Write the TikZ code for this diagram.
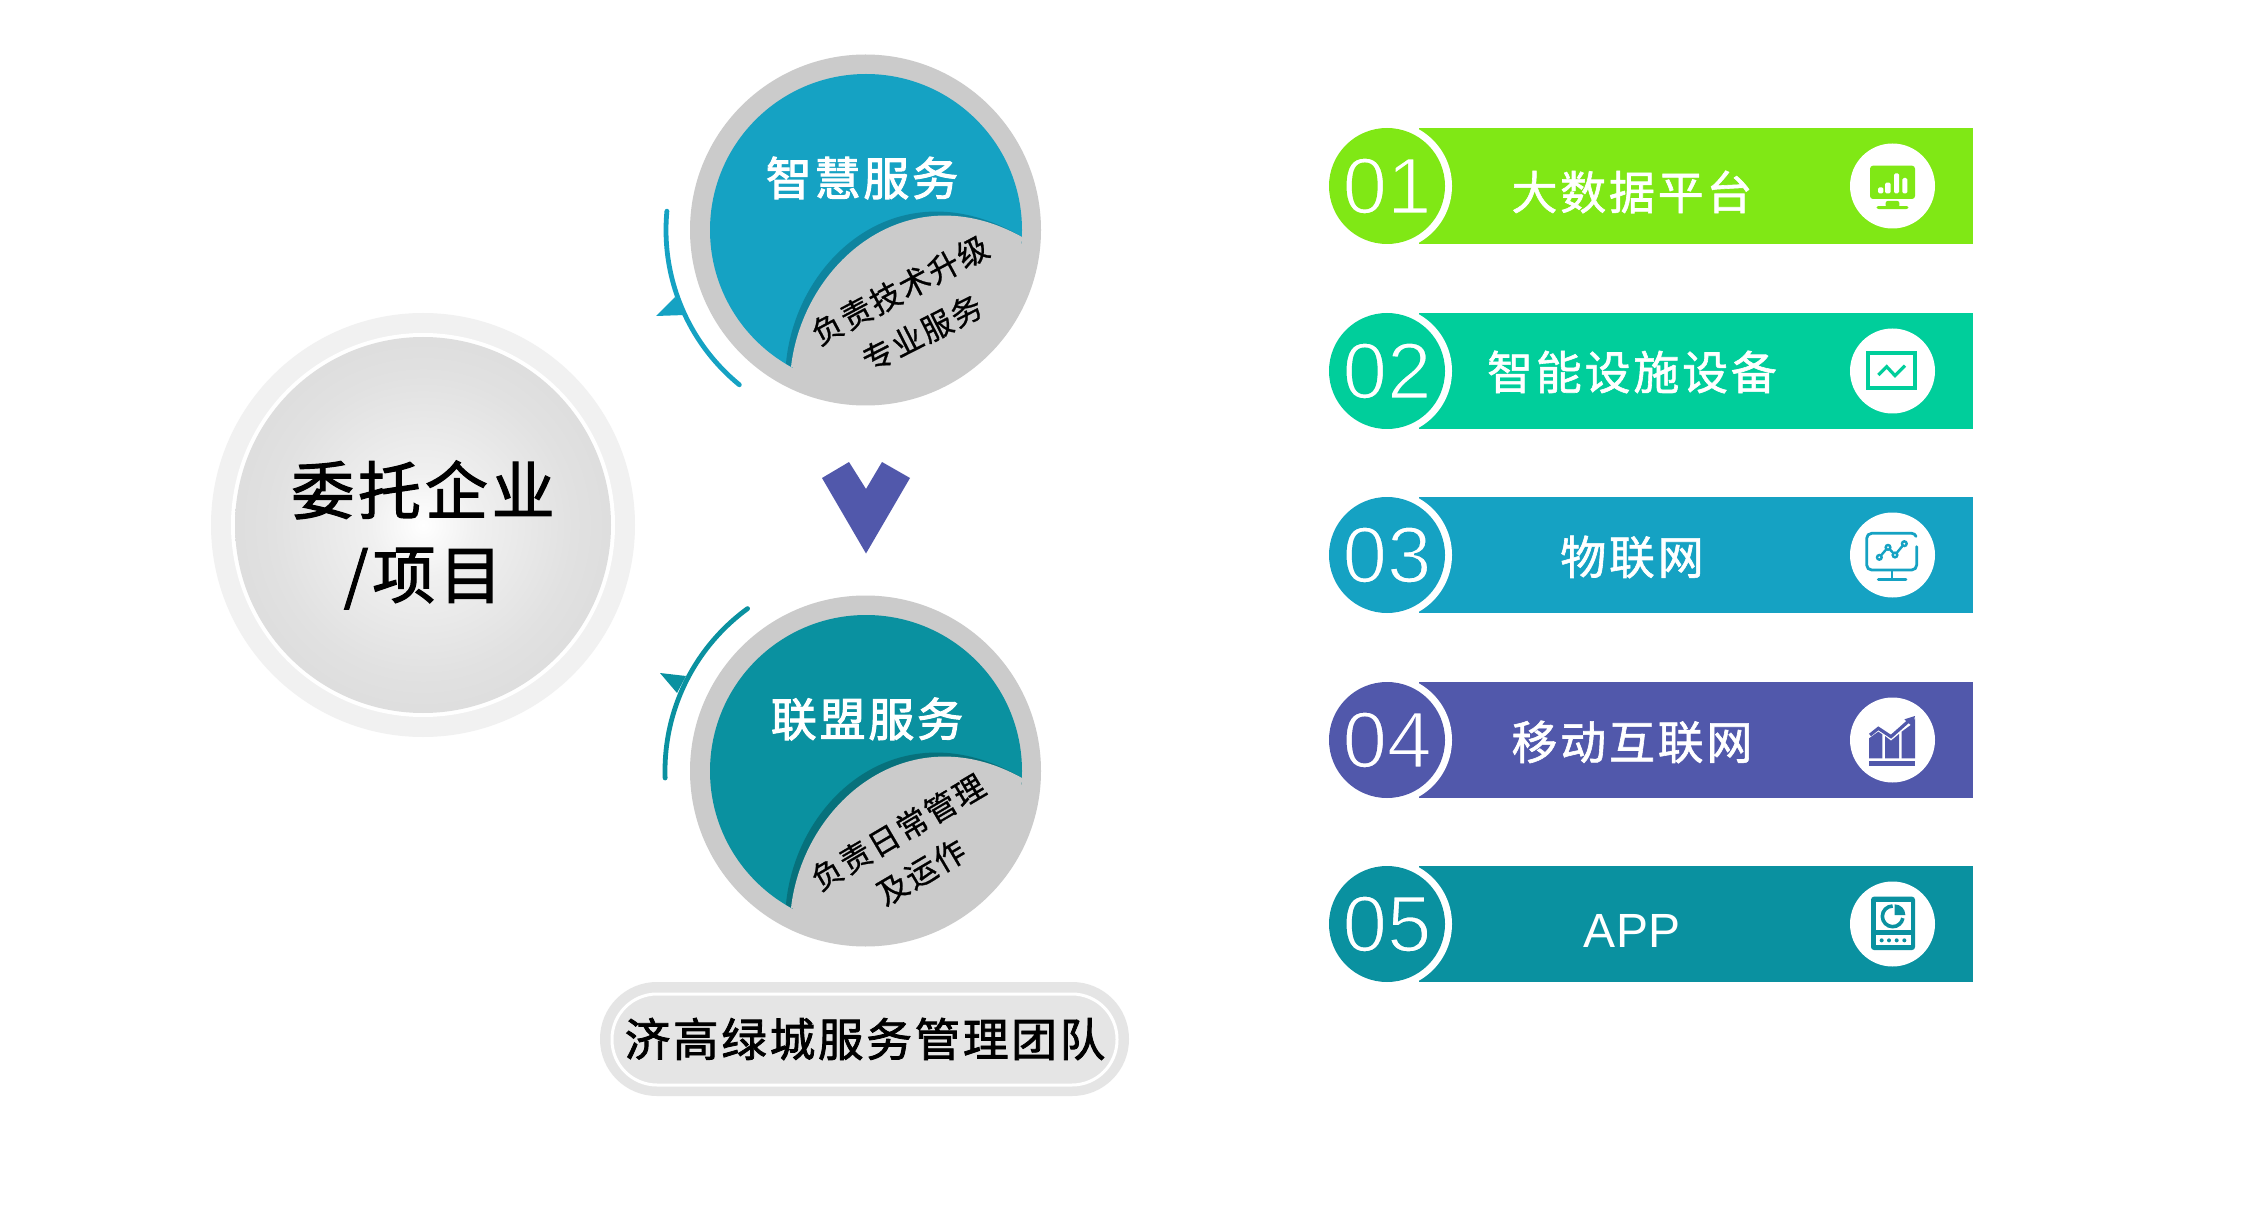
\documentclass[tikz,border=0pt]{standalone}
\usepackage{fontspec}
\newfontfamily\cjkw[LetterSpace=6,FakeBold=1.3]{Noto Sans CJK SC}
\newfontfamily\cjkh[LetterSpace=6,FakeBold=2.2]{Noto Sans CJK SC}
\newfontfamily\cjks[LetterSpace=6,FakeBold=0.8]{Noto Sans CJK SC}
\newfontfamily\cjkb[LetterSpace=6,FakeBold=1.8]{Noto Sans CJK SC}
\newfontfamily\numf{Liberation Sans}
\definecolor{cgreen}{HTML}{80E815}
\definecolor{cmint}{HTML}{00CE9B}
\definecolor{cblue}{HTML}{15A2C3}
\definecolor{cpurple}{HTML}{5158AB}
\definecolor{cteal}{HTML}{0A91A0}
\definecolor{cblued}{HTML}{0E849F}
\definecolor{cteald}{HTML}{07717C}
\definecolor{cring}{HTML}{CBCBCB}
\definecolor{cpill}{HTML}{E5E5E5}
\definecolor{chalo}{HTML}{F1F1F1}
\definecolor{gA}{HTML}{FFFFFF}
\definecolor{gB}{HTML}{F0F0F0}
\definecolor{gC}{HTML}{E1E1E1}
\definecolor{gD}{HTML}{D7D7D7}
\definecolor{gE}{HTML}{CFCFCF}
\pgfdeclareradialshading{softdisc}{\pgfpoint{0bp}{0bp}}{color(0bp)=(gA); color(7bp)=(gB); color(20bp)=(gC); color(35bp)=(gD); color(50bp)=(gE)}
% digits thinned by stroking their outline in the disc's colour
\newcommand{\thindigits}[2]{\special{pdf:code q 2 Tr 0.9 w #1 RG}#2\special{pdf:code Q}}
\tikzset{
  disc/.style={circle,draw=none,inner sep=0pt,minimum size=#1*0.5pt},
  lab/.style={inner sep=0pt,text=white,font=\cjkw\fontsize{23}{26}\selectfont},
  headlab/.style={inner sep=0pt,text=white,font=\cjkh\fontsize{23}{26}\selectfont},
  sublab/.style={inner sep=0pt,text=black,font=\cjks\fontsize{15.5}{18}\selectfont},
  darklab/.style={inner sep=0pt,text=black,font=\cjkb\fontsize{22.8}{26}\selectfont},
  numlab/.style={inner sep=0pt,anchor=base,text=white,font=\numf\fontsize{40}{42}\selectfont},
  swing/.style={line width=2.4pt,line cap=round},
}
% bar: #1 name, #2 colour, #3 centre y, #4 number, #5 label, #6 label y, #7 rgb of colour
\newcommand{\rowbar}[7]{%
  \node[inner sep=0pt,minimum width=277pt,minimum height=58pt,fill=#2] (bar#1) at (1696,#3) {};
  \node[disc=130,fill=white] (ring#1) at (1387,#3) {};
  \node[disc=116,fill=#2] (num#1) at (1387,#3) {};
  \node[numlab] (numt#1) at (1387,#3+27.5) {\thindigits{#7}{#4}};
  \node[lab] (txt#1) at (1632,#6) {#5};
  \node[disc=85,fill=white] (ico#1) at (1892.5,#3) {};
}
\newcommand{\petal}[2]{% shadow colour, wedge colour
  \fill[#1] (786,363) .. controls (796,258) and (900,165) .. (1022,237) arc[start angle=2.6,end angle=121,radius=156] -- cycle;
  \fill[#2] (791,367) .. controls (803,263) and (907,173) .. (1022,237) arc[start angle=2.6,end angle=118.7,radius=156] -- cycle;
}
\begin{document}
\begin{tikzpicture}[x=0.5pt,y=-0.5pt]
\useasboundingbox (0,0) rectangle (2256,1209);
\fill[white] (0,0) rectangle (2256,1209);

% client circle
\node[disc=424,fill=chalo] (haloC) at (423,525) {};
\node[disc=384,fill=white] (ringC) at (423,525) {};
\node[disc=376,shading=softdisc] (client) at (423,525) {};
\node[inner sep=0pt,text=black,align=center,font=\cjkb\fontsize{31.5}{42}\selectfont] (clientT) at (423,535) {委托企业\\/\hspace{2pt}项目};

% upper service
\node[disc=351,fill=cring] (upO) at (865.5,230) {};
\node[disc=312,fill=cblue] (upI) at (866,230) {};
\petal{cblued}{cring}
\draw[cring,line width=1.6pt] ([shift={(5:156.5)}]upI.center) arc[start angle=5,end angle=118,radius=156.5];
\draw[swing,cblue] ([shift={(185.4:200)}]upI.center) arc[start angle=185.4,end angle=129.3,radius=200];
\fill[cblue] (656,316) -- (675,297) -- (685,315) -- cycle;
\node[headlab] (upT) at (862,178) {智慧服务};
\node[sublab,rotate=28] (upS1) at (900,290) {负责技术升级};
\node[sublab,rotate=27] (upS2) at (922,333) {专业服务};

% chevron
\fill[cpurple] (849,462) -- (866,489) -- (882,462) -- (910,478) -- (866,553.5) -- (822,478) -- cycle;

% lower service
\node[disc=351,fill=cring] (loO) at (865.5,771) {};
\node[disc=312,fill=cteal] (loI) at (866,771) {};
\begin{scope}[yshift=-270.5pt]\petal{cteald}{cring}\end{scope}
\draw[cring,line width=1.6pt] ([shift={(5:156.5)}]loI.center) arc[start angle=5,end angle=118,radius=156.5];
\draw[swing,cteal] ([shift={(233.9:201)}]loI.center) arc[start angle=233.9,end angle=178,radius=201];
\fill[cteal] (660,673) -- (686,676) -- (677,693) -- cycle;
\node[headlab] (loT) at (867,719) {联盟服务};
\node[sublab,rotate=30.5] (loS1) at (898,832) {负责日常管理};
\node[sublab,rotate=30.5] (loS2) at (921,872) {及运作};

% team pill
\node[inner sep=0pt,rounded corners=28.4pt,minimum width=264.5pt,minimum height=57pt,fill=cpill] (pillO) at (864.5,1039) {};
\node[inner sep=0pt,rounded corners=22.5pt,minimum width=252.5pt,minimum height=45.5pt,draw=white,line width=1.5pt,fill=cpill] (pillI) at (864.5,1039.5) {};
\node[darklab] (pillT) at (865,1039) {济高绿城服务管理团队};

% rows
\rowbar{a}{cgreen}{186}{01}{大数据平台}{192}{0.502 0.91 0.082}
\rowbar{b}{cmint}{371}{02}{智能设施设备}{372}{0 0.808 0.608}
\rowbar{c}{cblue}{555}{03}{物联网}{557}{0.082 0.635 0.765}
\rowbar{d}{cpurple}{740}{04}{移动互联网}{742}{0.318 0.345 0.671}
\rowbar{e}{cteal}{924}{05}{\numf\fontsize{24}{26}\selectfont APP}{931}{0.039 0.569 0.627}

% icon a: monitor with bars
\begin{scope}[shift={(1820,130)},x=0.16667pt,y=-0.16667pt]
  \fill[cgreen,rounded corners=1.5pt] (150,107) rectangle (285,207);
  \fill[cgreen,rounded corners=1pt] (197,213) rectangle (238,232);
  \fill[cgreen,rounded corners=1pt] (170,228) rectangle (265,237);
  \fill[white,rounded corners=.7pt] (174,172) rectangle (190,190);
  \fill[white,rounded corners=.7pt] (195,158) rectangle (212,190);
  \fill[white,rounded corners=.7pt] (222,130) rectangle (237,190);
  \fill[white,rounded corners=.7pt] (247,144) rectangle (262,190);
% icon b: framed zigzag
  \draw[cmint,line width=2pt] (144,669) rectangle (285,773);
  \draw[cmint,line width=1.6pt] (175,735) -- (200,710) -- (225,737) -- (255,707);
\end{scope}
% icon c: outline monitor with chart
\begin{scope}[shift={(1820,500)},x=0.16667pt,y=-0.16667pt]
  \draw[cblue,line width=1.4pt,line cap=round] (290,140) -- (290,195) arc[start angle=0,end angle=90,radius=15] -- (155,210) arc[start angle=90,end angle=180,radius=15] -- (140,115) arc[start angle=180,end angle=270,radius=15] -- (275,100) arc[start angle=270,end angle=340,radius=14];
  \draw[cblue,line width=1.4pt] (216,210) -- (216,238);
  \draw[cblue,line width=1.4pt,line cap=round] (175,238) -- (258,238);
  \draw[cblue,line width=1.2pt] (178,172) -- (204,142) -- (225,165) -- (253,131);
  \foreach \px/\py in {178/172,204/142,225/165,253/131}
    \draw[cblue,line width=1.2pt,fill=white] (\px,\py) circle[radius=7];
\end{scope}
% icons d and e
\begin{scope}[shift={(1820,680)},x=0.16667pt,y=-0.16667pt]
  \fill[cpurple] (147,243) rectangle (285,258);
  \draw[cpurple,line width=1.6pt] (150,165) -- (175,145) -- (213,170) -- (265,124);
  \fill[cpurple] (253,118) -- (285,108) -- (278,140) -- cycle;
  \fill[cpurple] (147,175) -- (175,155) -- (187,163) -- (187,235) -- (147,235) -- cycle;
  \fill[cpurple] (195,168) -- (213,182) -- (237,162) -- (237,235) -- (195,235) -- cycle;
  \fill[cpurple] (245,155) -- (275,133) -- (285,115) -- (285,235) -- (245,235) -- cycle;
  \fill[cteal,rounded corners=1.5pt] (153,650) rectangle (285,810);
  \fill[white] (167,665) rectangle (272,750);
  \fill[white] (167,765) rectangle (272,795);
  \foreach \px in {185,207,230,253}
    \fill[cteal] (\px,781) circle[radius=6];
  \draw[cteal,line width=1.8pt] (218,678) arc[start angle=270,end angle=10,radius=31];
  \fill[cteal] (224,705) -- (224,673) arc[start angle=270,end angle=360,radius=32] -- cycle;
\end{scope}
\end{tikzpicture}
\end{document}
